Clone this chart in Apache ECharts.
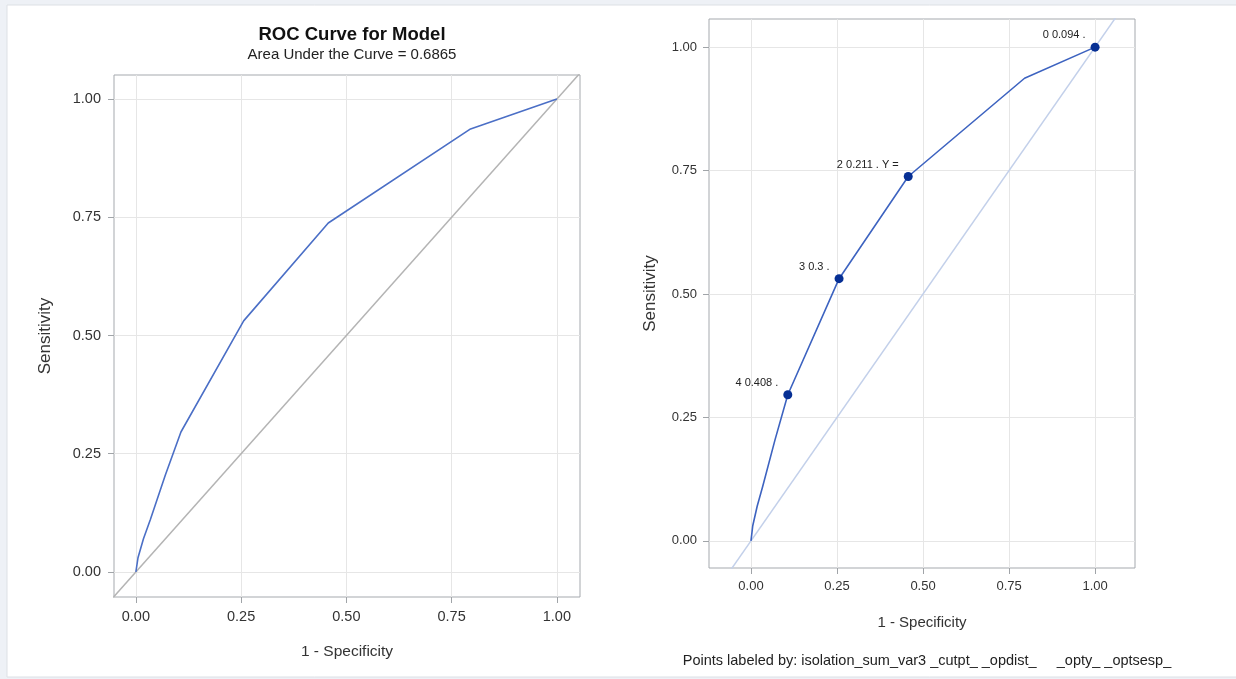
<!DOCTYPE html>
<html>
<head>
<meta charset="utf-8">
<script src="https://cdn.jsdelivr.net/npm/echarts@6/dist/echarts.min.js"></script>
<style>
html,body{margin:0;padding:0;background:#eef1f6;}
#c{width:1236px;height:679px;}
</style>
</head>
<body>
<div id="c"></div>
<script>
// ROC curve data (1 - specificity, sensitivity)
const fpr = [0, 0.005, 0.018, 0.034, 0.07, 0.107, 0.256, 0.457, 0.795, 1.0];
const tpr = [0, 0.03, 0.07, 0.11, 0.205, 0.296, 0.531, 0.738, 0.937, 1.0];
// Labeled points on the right panel
const ptX = [0.107, 0.256, 0.457, 1.0];
const ptY = [0.296, 0.531, 0.738, 1.0];
const ptLabels = ['4 0.408 .', '3 0.3 .', '2 0.211 . Y =', '0 0.094 .'];
const tickVals = [0, 0.25, 0.5, 0.75, 1.0];
const tickLabels = ['0.00', '0.25', '0.50', '0.75', '1.00'];
const auc = '0.6865';

const FONT = '"Liberation Sans", Arial, sans-serif';
const curve = fpr.map((x, i) => [x, tpr[i]]);
const pts = ptX.map((x, i) => ({value: [x, ptY[i]], label: {formatter: ptLabels[i]}}));
const fmt = v => tickLabels[tickVals.indexOf(Math.round(v * 100) / 100)] ?? '';

function axis(o) {
  return {
    type: 'value', min: o.min, max: o.max, gridIndex: o.grid,
    name: o.name, nameLocation: 'middle', nameGap: o.gap,
    nameTextStyle: {fontFamily: FONT, fontSize: o.nameSize, color: '#333'},
    axisLine: {show: false, onZero: false},
    axisTick: {show: true, length: 6, lineStyle: {color: '#a0a4a8'}, customValues: tickVals},
    axisLabel: {fontFamily: FONT, fontSize: o.labelSize, color: '#333', margin: o.margin,
      customValues: tickVals, formatter: fmt},
    splitLine: {show: true, lineStyle: {color: '#e6e6e6', width: 1}}
  };
}

const chart = echarts.init(document.getElementById('c'), null, {renderer: 'canvas'});
chart.setOption({
  backgroundColor: '#eef1f6',
  animation: false,
  graphic: [
    {type: 'rect', z: -10, shape: {x: 7, y: 5, width: 1240, height: 672},
     style: {fill: '#ffffff', stroke: '#dde0e5', lineWidth: 1}}
  ],
  title: [
    {text: 'ROC Curve for Model', left: 347, top: 20, textAlign: 'center',
     textStyle: {fontFamily: FONT, fontSize: 18.5, fontWeight: 'bold', color: '#111'},
     subtext: 'Area Under the Curve = ' + auc, itemGap: 3,
     subtextStyle: {fontFamily: FONT, fontSize: 15, color: '#222'}},
    {text: 'Points labeled by: isolation_sum_var3 _cutpt_ _opdist_     _opty_ _optsesp_',
     left: 922, top: 648, textAlign: 'center',
     textStyle: {fontFamily: FONT, fontSize: 14.5, fontWeight: 'normal', color: '#222'}}
  ],
  grid: [
    {left: 114, top: 75, width: 466, height: 522, show: true, borderColor: '#a5a9ae', borderWidth: 1, backgroundColor: 'transparent'},
    {left: 709, top: 19, width: 426, height: 549, show: true, borderColor: '#a5a9ae', borderWidth: 1, backgroundColor: 'transparent'}
  ],
  xAxis: [
    axis({grid: 0, min: -0.052, max: 1.055, name: '1 - Specificity', gap: 47, nameSize: 15.5, labelSize: 14.5, margin: 12}),
    axis({grid: 1, min: -0.122, max: 1.116, name: '1 - Specificity', gap: 47, nameSize: 15, labelSize: 13, margin: 12})
  ],
  yAxis: [
    axis({grid: 0, min: -0.053, max: 1.051, name: 'Sensitivity', gap: 60, nameSize: 17, labelSize: 14.5, margin: 13}),
    axis({grid: 1, min: -0.055, max: 1.057, name: 'Sensitivity', gap: 50, nameSize: 17, labelSize: 13, margin: 12})
  ],
  series: [
    {type: 'line', xAxisIndex: 0, yAxisIndex: 0, data: [[-0.06, -0.06], [1.06, 1.06]],
     symbol: 'none', lineStyle: {color: '#b4b4b4', width: 1.5}, clip: true, z: 2},
    {type: 'line', xAxisIndex: 0, yAxisIndex: 0, data: curve, symbol: 'none',
     lineStyle: {color: '#4b6fc6', width: 1.6}, z: 3},
    {type: 'line', xAxisIndex: 1, yAxisIndex: 1, data: [[-0.06, -0.06], [1.06, 1.06]],
     symbol: 'none', lineStyle: {color: '#c3d0ea', width: 1.5}, clip: true, z: 2},
    {type: 'line', xAxisIndex: 1, yAxisIndex: 1, data: curve, symbol: 'none',
     lineStyle: {color: '#3d63c0', width: 1.6}, z: 3},
    {type: 'scatter', xAxisIndex: 1, yAxisIndex: 1, data: pts, symbol: 'circle', symbolSize: 9,
     itemStyle: {color: '#062f94', opacity: 1}, z: 4,
     label: {show: true, position: 'left', distance: 5, offset: [0, -12],
       fontFamily: FONT, fontSize: 11, color: '#222'}}
  ]
});
</script>
</body>
</html>
